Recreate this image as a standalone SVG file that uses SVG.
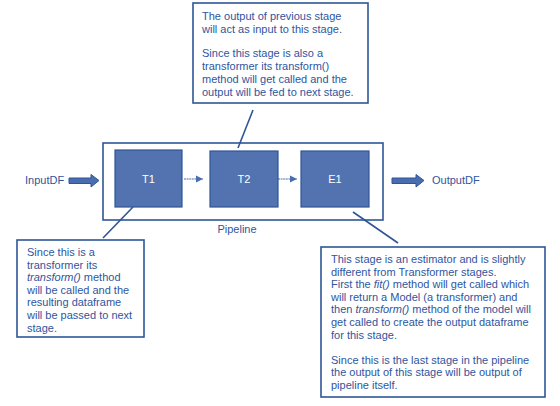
<svg xmlns="http://www.w3.org/2000/svg" width="560" height="406" viewBox="0 0 560 406">
<defs>
<style>
text{font-family:"Liberation Sans",Arial,sans-serif;font-size:11px;fill:#2F55A0}
.note{fill:#fff;stroke:#2F5597;stroke-width:1.6}
.stage{fill:#5373B0;stroke:#2F5597;stroke-width:1.2}
.lbl{fill:#fff;text-anchor:middle}
.con{stroke:#2F5597;stroke-width:1.6;fill:none}
.flow{stroke:#4A6DB0;stroke-width:1;stroke-dasharray:2 0.6;fill:none}
.blk{fill:#4A6DB0;stroke:#2F5597;stroke-width:1}
</style>
<marker id="ah" markerWidth="8" markerHeight="8" refX="7" refY="4" orient="auto" markerUnits="userSpaceOnUse">
<path d="M0,0.5 L7,4 L0,7.5 Z" fill="#4A6DB0"/>
</marker>
</defs>

<g id="pipeline">
<rect x="103" y="143" width="280" height="77" fill="#fff" stroke="#2F5597" stroke-width="1.6"/>
<text x="237" y="233" text-anchor="middle">Pipeline</text>
</g>

<g id="connectors">
<line class="con" x1="253" y1="110" x2="238" y2="148"/>
<line class="con" x1="133" y1="207" x2="103" y2="238"/>
<line class="con" x1="353" y1="212" x2="398" y2="243"/>
<line class="flow" x1="184" y1="179" x2="203" y2="179" marker-end="url(#ah)"/>
<line class="flow" x1="278" y1="179" x2="297" y2="179" marker-end="url(#ah)"/>
<path class="blk" d="M69,178 L91,178 L91,174.5 L99,180.5 L91,187 L91,183.5 L69,183.5 Z"/>
<path class="blk" d="M392,178 L416,178 L416,174.5 L424,180.5 L416,187 L416,183.5 L392,183.5 Z"/>
</g>

<g id="T1">
<rect class="stage" x="115" y="150" width="67" height="57"/>
<text class="lbl" x="148.5" y="183">T1</text>
</g>
<g id="T2">
<rect class="stage" x="210" y="151" width="68" height="56"/>
<text class="lbl" x="244" y="183">T2</text>
</g>
<g id="E1">
<rect class="stage" x="301" y="151" width="68" height="56"/>
<text class="lbl" x="335" y="183">E1</text>
</g>

<g id="InputDF">
<text x="25" y="184">InputDF</text>
</g>
<g id="OutputDF">
<text x="432" y="184">OutputDF</text>
</g>

<g id="note-top">
<rect class="note" x="193" y="3" width="175" height="100"/>
<text x="202" y="20">The output of previous stage</text>
<text x="202" y="33">will act as input to this stage.</text>
<text x="202" y="57">Since this stage is also a</text>
<text x="202" y="70">transformer its transform()</text>
<text x="202" y="83">method will get called and the</text>
<text x="202" y="96">output will be fed to next stage.</text>
</g>

<g id="note-left">
<rect class="note" x="17" y="240" width="127" height="97"/>
<text x="27" y="256">Since this is a</text>
<text x="27" y="268.6">transformer its</text>
<text x="27" y="281.2"><tspan font-style="italic">transform()</tspan> method</text>
<text x="27" y="293.8">will be called and the</text>
<text x="27" y="306.4">resulting dataframe</text>
<text x="27" y="319">will be passed to next</text>
<text x="27" y="331.6">stage.</text>
</g>

<g id="note-right">
<rect class="note" x="321" y="247" width="224" height="150"/>
<text x="331" y="263">This stage is an estimator and is slightly</text>
<text x="331" y="275.6">different from Transformer stages.</text>
<text x="331" y="288.2">First the <tspan font-style="italic">fit()</tspan> method will get called which</text>
<text x="331" y="300.8">will return a Model (a transformer) and</text>
<text x="331" y="313.4">then <tspan font-style="italic">transform()</tspan> method of the model will</text>
<text x="331" y="326">get called to create the output dataframe</text>
<text x="331" y="338.6">for this stage.</text>
<text x="331" y="363.8">Since this is the last stage in the pipeline</text>
<text x="331" y="376.4">the output of this stage will be output of</text>
<text x="331" y="389">pipeline itself.</text>
</g>
</svg>
